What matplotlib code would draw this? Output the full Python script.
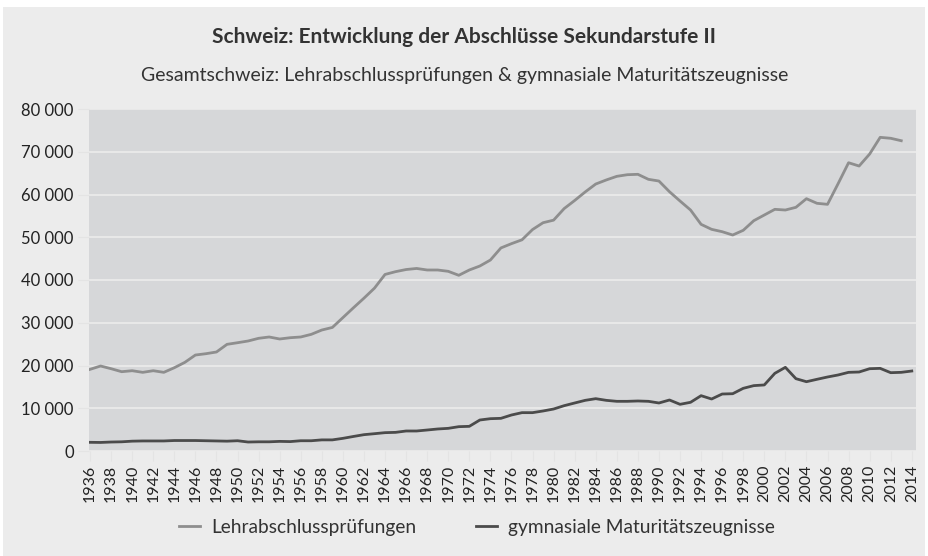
import matplotlib.pyplot as plt
from matplotlib.patches import Rectangle
from matplotlib.ticker import FuncFormatter, MultipleLocator

plt.rcParams['font.family'] = ['Lato', 'DejaVu Sans']

years_lehr = list(range(1936, 2014))
lehr = [19100, 19880, 19250, 18550, 18780, 18400, 18780, 18400, 19480, 20740,
        22450, 22760, 23160, 24950, 25330, 25730, 26360, 26670, 26200, 26500,
        26670, 27290, 28300, 28900, 31200, 33500, 35750, 38100, 41300, 41950,
        42450, 42700, 42340, 42340, 42030, 41100, 42340, 43270, 44670, 47500,
        48500, 49400, 51800, 53400, 54000, 56700, 58600, 60600, 62450, 63400,
        64250, 64630, 64720, 63550, 63150, 60650, 58480, 56370, 53020, 51850,
        51300, 50520, 51620, 53870, 55200, 56530, 56370, 57000, 59020, 57940,
        57700, 62500, 67430, 66660, 69470, 73370, 73150, 72580]

years_matur = list(range(1936, 2015))
matur = [2030, 2000, 2100, 2150, 2300, 2350, 2350, 2350, 2450, 2450,
         2450, 2400, 2350, 2300, 2400, 2100, 2150, 2150, 2250, 2200,
         2400, 2400, 2600, 2600, 2960, 3400, 3820, 4050, 4290, 4360,
         4680, 4680, 4910, 5150, 5300, 5690, 5770, 7250, 7560, 7640,
         8420, 8970, 8970, 9360, 9820, 10600, 11230, 11850, 12240, 11850,
         11620, 11620, 11700, 11620, 11230, 11930, 10920, 11390, 12940, 12160,
         13330, 13400, 14660, 15290, 15450, 18170, 19570, 16920, 16210, 16770,
         17310, 17780, 18400, 18480, 19250, 19330, 18320, 18400, 18710]

fig = plt.figure(figsize=(9.29, 5.56), dpi=100, facecolor='white')
fig.patches.append(Rectangle((3 / 929, 0), 922 / 929, 549 / 556,
                             transform=fig.transFigure, facecolor='#ececec',
                             edgecolor='none', zorder=-1))

ax = fig.add_axes([89 / 929, 1 - 451 / 556, (916 - 89) / 929, 342 / 556])
ax.set_facecolor('#d6d7d9')

ax.plot(years_lehr, lehr, color='#8e8e8e', lw=2, label='Lehrabschlussprüfungen')
ax.plot(years_matur, matur, color='#4b4b4b', lw=2, label='gymnasiale Maturitätszeugnisse')

ax.set_xlim(1935.9, 2014.4)
ax.set_ylim(0, 80000)
ax.xaxis.set_major_locator(MultipleLocator(2))
ax.yaxis.set_major_locator(MultipleLocator(10000))
ax.yaxis.set_major_formatter(FuncFormatter(lambda v, p: f'{int(v):,}'.replace(',', ' ')))
ax.grid(axis='y', color='#ececec', lw=1.2)
ax.set_axisbelow(True)
for s in ax.spines.values():
    s.set_visible(False)
ax.tick_params(axis='x', rotation=90, labelsize=11.5, color='#e4e4e4', length=7, pad=3, labelcolor='#222222')
ax.tick_params(axis='y', labelsize=12, color='#e4e4e4', length=8, pad=3, labelcolor='#222222')

fig.text(0.5, 1 - 37 / 556, 'Schweiz: Entwicklung der Abschlüsse Sekundarstufe II',
         ha='center', va='center', fontsize=15, fontweight='bold', color='#333333')
fig.text(0.5, 1 - 76 / 556, 'Gesamtschweiz: Lehrabschlussprüfungen & gymnasiale Maturitätszeugnisse',
         ha='center', va='center', fontsize=14, color='#333333')

fig.legend(loc='center', bbox_to_anchor=(477 / 929, 1 - 527 / 556), ncol=2, frameon=False,
           fontsize=13.8, handlelength=1.1, handletextpad=0.6, columnspacing=3.1,
           labelcolor='#333333')

fig.savefig('out.png', dpi=100, facecolor=fig.get_facecolor())
